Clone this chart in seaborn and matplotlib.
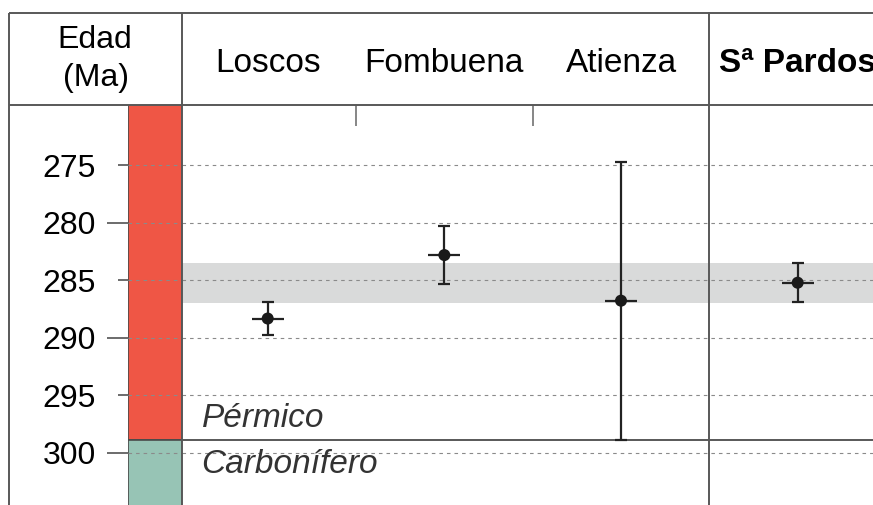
import numpy as np
import pandas as pd
import matplotlib
matplotlib.use("Agg")
import matplotlib.pyplot as plt
import matplotlib.transforms as mtrans
from matplotlib.lines import Line2D
from matplotlib.ticker import FixedLocator, FixedFormatter
import seaborn as sns

# ---------------- data ----------------
sites = ["Loscos", "Fombuena", "Atienza", "Sª Pardos"]
ages = [288.33, 282.82, 286.78, 285.22]
age_errors = [1.43, 2.49, 12.06, 1.69]
band_limits = [283.5, 287.0]
periods = ["Pérmico", "Carbonífero"]
period_tops = [250.0, 298.9]
period_bases = [298.9, 320.0]
period_colors = ["#EF5645", "#97C4B5"]
major_ticks = [280, 290, 300]
minor_ticks = [275, 285, 295]
age_label = ["Edad", "(Ma)"]

df = pd.DataFrame({"site": sites, "age": ages, "err": age_errors})
df["pos"] = np.arange(len(sites))

# ---------------- style ----------------
sns.set_theme(style="white")
plt.rcParams["font.family"] = ["Liberation Sans", "DejaVu Sans"]

W, H = 873, 505
fig = plt.figure(figsize=(W / 100, H / 100), dpi=100)
fig.patch.set_facecolor("white")


def fx(px):
    return px / W


def fy(py):
    return 1 - py / H


LINE_C = "#585858"
LINE_W = 1.4
ylim = (304.52, 269.79)

ax_col = fig.add_axes([fx(128), 0, fx(182) - fx(128), fy(105)])
ax = fig.add_axes([fx(182), 0, 1 - fx(182), fy(105)])

# ---------------- stratigraphic column ----------------
for name, top, base, col in zip(periods, period_tops, period_bases, period_colors):
    ax_col.bar(0, base - top, bottom=top, width=1.0, color=col,
               edgecolor="#4a4a4a", linewidth=1.2, zorder=1)
ax_col.set_xlim(-0.5, 0.5)
ax_col.set_ylim(*ylim)
for t in sorted(major_ticks + minor_ticks):
    ax_col.axhline(t, color="#8a8a8a", lw=0.8, dashes=(3.2, 3.6), zorder=2)
ax_col.yaxis.set_major_locator(FixedLocator(major_ticks))
ax_col.yaxis.set_major_formatter(FixedFormatter([str(t) for t in major_ticks]))
ax_col.yaxis.set_minor_locator(FixedLocator(minor_ticks))
ax_col.yaxis.set_minor_formatter(FixedFormatter([str(t) for t in minor_ticks]))
ax_col.tick_params(axis="y", which="major", left=True, length=15, width=1.1,
                   pad=8.0, labelsize=23, color="#444444", labelcolor="black")
ax_col.tick_params(axis="y", which="minor", left=True, length=7.2, width=1.1,
                   pad=15.8, labelsize=23, color="#444444", labelcolor="black")
ax_col.set_xticks([])
for s in ax_col.spines.values():
    s.set_visible(False)

# ---------------- main panel ----------------
ax.set_xlim(-0.4851, 3.4265)
ax.set_ylim(*ylim)
ax.axhspan(band_limits[0], band_limits[1], color="#D9DADA", lw=0, zorder=0)
for t in sorted(major_ticks + minor_ticks):
    ax.axhline(t, color="#8a8a8a", lw=0.8, dashes=(3.2, 3.6), zorder=1)
ax.axhline(period_bases[0], color=LINE_C, lw=LINE_W, zorder=2)

ax.errorbar(df["pos"], df["age"], yerr=df["err"], fmt="none", ecolor="#222222",
            elinewidth=1.6, capsize=4.5, capthick=1.6, zorder=4)
ax.errorbar(df["pos"], df["age"], xerr=0.09, fmt="none", ecolor="#222222",
            elinewidth=1.6, capsize=0, zorder=4)
sns.scatterplot(data=df, x="pos", y="age", ax=ax, s=75, color="#1a1a1a",
                edgecolor="none", zorder=5, legend=False)
ax.set_xlabel("")
ax.set_ylabel("")
ax.set_yticks([])
ax.set_xticks([0.5, 1.5])
ax.tick_params(axis="x", which="major", top=True, bottom=False, labeltop=False,
               labelbottom=False, direction="in", length=15, width=1.1,
               color="#666666")
for s in ax.spines.values():
    s.set_visible(False)

# period names
ax.text(-0.374, 297.75, periods[0], style="italic", fontsize=24,
        color="#333333", va="baseline", ha="left", zorder=6)
ax.text(-0.374, 301.78, periods[1], style="italic", fontsize=24,
        color="#333333", va="baseline", ha="left", zorder=6)

# ---------------- header / frame ----------------
blend = mtrans.blended_transform_factory(ax.transData, fig.transFigure)
for i, name in enumerate(sites):
    ax.text(i, fy(71.7), name, transform=blend, ha="center", va="baseline",
            fontsize=24, color="black",
            fontweight="bold" if name.startswith("Sª") else "normal",
            clip_on=False)

fig.text(fx(95), fy(48.3), age_label[0], ha="center", va="baseline",
         fontsize=23, color="black")
fig.text(fx(96), fy(86), age_label[1], ha="center", va="baseline",
         fontsize=23, color="black")


def fline(x0, y0, x1, y1):
    fig.add_artist(Line2D([fx(x0), fx(x1)], [fy(y0), fy(y1)],
                          transform=fig.transFigure, color=LINE_C,
                          lw=LINE_W, solid_capstyle="butt", zorder=10))


fline(9, 13, 873, 13)
fline(9, 105, 873, 105)
fline(9, 13, 9, 505)
fline(182, 13, 182, 505)
fig.add_artist(Line2D([2.5, 2.5], [0, fy(13)], transform=blend, color=LINE_C,
                      lw=LINE_W, zorder=10))

fig.savefig("out.png", dpi=100, facecolor="white")
